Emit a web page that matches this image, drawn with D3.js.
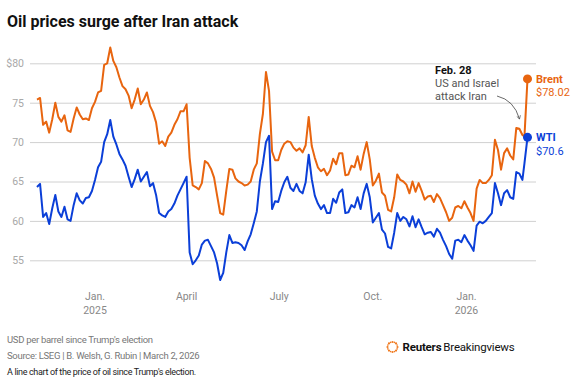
<!DOCTYPE html>
<html>
<head>
<meta charset="utf-8">
<script src="https://cdn.jsdelivr.net/npm/d3@7"></script>
<style>
  body { margin: 0; background: #fff; }
  svg { display: block; font-family: Roboto, "Noto Sans", sans-serif; }
</style>
</head>
<body>
<div id="chart"></div>
<script>
// dates every ~3 days since the election, last point March 2, 2026
const dates = [
  "2024-11-05","2024-11-08","2024-11-11","2024-11-14","2024-11-17","2024-11-20","2024-11-23","2024-11-26","2024-11-29",
  "2024-12-02","2024-12-05","2024-12-08","2024-12-11","2024-12-14","2024-12-17","2024-12-20","2024-12-23","2024-12-26","2024-12-29",
  "2025-01-01","2025-01-04","2025-01-07","2025-01-10","2025-01-13","2025-01-16","2025-01-19","2025-01-22","2025-01-25","2025-01-28","2025-01-31",
  "2025-02-03","2025-02-06","2025-02-09","2025-02-12","2025-02-15","2025-02-18","2025-02-21","2025-02-24","2025-02-27",
  "2025-03-02","2025-03-05","2025-03-08","2025-03-11","2025-03-14","2025-03-17","2025-03-20","2025-03-23","2025-03-26","2025-03-29",
  "2025-04-01","2025-04-04","2025-04-07","2025-04-10","2025-04-13","2025-04-16","2025-04-19","2025-04-22","2025-04-25","2025-04-28",
  "2025-05-01","2025-05-04","2025-05-07","2025-05-10","2025-05-13","2025-05-16","2025-05-19","2025-05-22","2025-05-25","2025-05-28","2025-05-31",
  "2025-06-03","2025-06-06","2025-06-09","2025-06-12","2025-06-15","2025-06-18","2025-06-21","2025-06-24","2025-06-27","2025-06-30",
  "2025-07-03","2025-07-06","2025-07-09","2025-07-12","2025-07-15","2025-07-18","2025-07-21","2025-07-24","2025-07-27","2025-07-30",
  "2025-08-02","2025-08-05","2025-08-08","2025-08-11","2025-08-14","2025-08-17","2025-08-20","2025-08-23","2025-08-26","2025-08-29",
  "2025-09-01","2025-09-04","2025-09-07","2025-09-10","2025-09-13","2025-09-16","2025-09-19","2025-09-22","2025-09-25","2025-09-28",
  "2025-10-01","2025-10-04","2025-10-07","2025-10-10","2025-10-13","2025-10-16","2025-10-19","2025-10-22","2025-10-25","2025-10-28","2025-10-31",
  "2025-11-03","2025-11-06","2025-11-09","2025-11-12","2025-11-15","2025-11-18","2025-11-21","2025-11-24","2025-11-27","2025-11-30",
  "2025-12-03","2025-12-06","2025-12-09","2025-12-12","2025-12-15","2025-12-18","2025-12-21","2025-12-24","2025-12-27","2025-12-30",
  "2026-01-02","2026-01-05","2026-01-08","2026-01-11","2026-01-14","2026-01-17","2026-01-20","2026-01-23","2026-01-26","2026-01-29",
  "2026-02-01","2026-02-04","2026-02-07","2026-02-10","2026-02-13","2026-02-16","2026-02-19","2026-02-22","2026-02-25","2026-02-27",
  "2026-03-02"
];

const brent = [
  75.4,75.6,72.2,72.6,71.2,72.9,75.0,73.2,72.6,
  73.4,71.5,71.3,73.0,74.4,73.5,72.9,73.0,72.8,74.3,
  75.1,76.3,76.5,79.8,80.0,82.0,80.3,79.5,78.2,77.1,76.7,
  75.9,74.3,75.4,76.8,74.8,75.4,76.3,74.6,73.8,
  72.5,69.8,70.1,69.5,70.7,71.2,72.2,72.9,73.9,73.9,
  74.8,68.0,64.5,64.3,64.0,64.8,67.6,67.3,66.6,65.5,
  63.2,61.0,60.8,63.8,66.6,66.5,65.4,65.0,64.8,64.5,64.6,
  65.0,66.5,67.3,71.0,73.6,78.9,76.5,68.8,67.7,67.7,
  69.0,69.8,70.1,70.0,69.3,68.9,69.2,68.7,69.6,73.2,
  69.5,68.0,66.8,66.3,66.6,65.8,66.4,67.9,67.2,68.6,
  68.6,65.8,65.9,67.0,66.8,68.2,66.5,68.5,70.0,67.8,
  64.5,65.1,66.0,63.6,63.2,61.4,61.2,63.0,65.9,65.2,65.0,
  64.6,63.5,65.0,63.7,64.8,63.8,62.7,63.1,63.2,62.4,
  63.4,62.9,62.0,61.1,60.0,60.4,61.7,61.9,61.6,62.5,
  61.7,61.0,60.0,64.1,65.2,64.8,64.8,65.2,65.8,70.3,
  69.0,66.5,68.6,69.2,68.3,67.8,71.8,71.7,70.9,70.7,
  78.02
];

const wti = [
  64.3,64.7,60.5,61.0,59.6,61.6,63.3,61.2,60.5,
  61.8,60.2,60.0,62.0,63.5,62.6,62.2,62.9,63.0,63.8,
  65.2,66.8,67.5,70.0,71.0,72.8,70.7,69.7,68.5,67.8,67.0,
  65.6,64.3,65.3,66.5,65.0,65.6,66.2,64.4,64.8,
  63.3,61.0,60.7,60.5,61.2,61.5,62.2,63.2,64.0,64.8,
  65.6,56.0,54.5,55.0,55.6,57.0,57.5,57.6,56.8,56.0,
  54.6,52.5,53.4,56.0,58.2,57.2,57.3,57.2,56.9,56.3,57.4,
  58.3,59.7,61.2,65.0,67.3,70.0,70.8,61.5,62.5,62.4,
  63.8,64.9,65.6,64.2,63.8,64.7,63.8,63.5,64.9,68.4,
  65.3,63.2,62.2,61.5,62.0,61.0,61.0,62.8,62.3,63.6,
  64.0,61.0,61.1,62.0,61.7,63.0,61.5,63.5,64.7,63.0,
  59.8,60.4,61.0,58.9,58.4,56.7,56.5,58.5,61.0,60.0,60.5,
  60.2,59.3,60.6,59.2,60.2,59.2,58.3,58.5,58.6,58.0,
  59.0,58.5,57.6,56.8,55.8,55.2,57.5,57.6,57.3,58.2,
  57.5,56.9,56.2,59.4,59.9,59.7,60.0,60.5,61.0,64.8,
  63.5,62.0,63.5,63.9,63.0,62.8,66.2,66.0,65.2,67.3,
  70.6
];

const yTicks = [55, 60, 65, 70, 75, 80];
const xTicks = [
  { date: "2025-01-01", lines: ["Jan.", "2025"] },
  { date: "2025-04-01", lines: ["April"] },
  { date: "2025-07-01", lines: ["July"] },
  { date: "2025-10-01", lines: ["Oct."] },
  { date: "2026-01-01", lines: ["Jan.", "2026"] }
];

const orange = "#e8650f";
const blue = "#0b3fd8";

const svgWidth = 584;
const svgHeight = 392;
const parse = d3.timeParse("%Y-%m-%d");

const svg = d3.select("#chart").append("svg")
  .attr("width", svgWidth)
  .attr("height", svgHeight);

// scales
const x = d3.scaleTime()
  .domain([parse(dates[0]), parse(dates[dates.length - 1])])
  .range([37, 527.5]);

const y = d3.scaleLinear()
  .domain([55, 80])
  .range([260.3, 63.3]);

// title
svg.append("text")
  .attr("x", 7)
  .attr("y", 27)
  .attr("font-size", 16)
  .attr("font-weight", 700)
  .attr("fill", "#111")
  .text("Oil prices surge after Iran attack");

// gridlines + y labels
const yAxis = svg.append("g")
  .attr("transform", "translate(30,0)")
  .call(d3.axisRight(y)
    .tickValues(yTicks)
    .tickSize(506)
    .tickFormat(d => d === 80 ? "$80" : d));
yAxis.select(".domain").remove();
yAxis.selectAll(".tick line").attr("stroke", "#d0d0d0").attr("stroke-width", 1);
yAxis.selectAll(".tick text")
  .attr("x", -6)
  .attr("text-anchor", "end")
  .attr("fill", "#a8a8a8")
  .attr("font-size", 10.5)
  .attr("font-family", "Roboto, sans-serif");

// x labels
const xg = svg.append("g");
xTicks.forEach(t => {
  const txt = xg.append("text")
    .attr("x", x(parse(t.date)))
    .attr("y", 300)
    .attr("text-anchor", "middle")
    .attr("font-size", 10.5)
    .attr("fill", "#888");
  t.lines.forEach((l, i) => {
    txt.append("tspan")
      .attr("x", x(parse(t.date)))
      .attr("dy", i === 0 ? 0 : 13.5)
      .text(l);
  });
});

// lines
const series = [
  { name: "Brent", values: brent, color: orange, label: "$78.02" },
  { name: "WTI", values: wti, color: blue, label: "$70.6" }
];

const line = d3.line()
  .x((d, i) => x(parse(dates[i])))
  .y(d => y(d));

series.forEach(s => {
  svg.append("path")
    .datum(s.values)
    .attr("fill", "none")
    .attr("stroke", s.color)
    .attr("stroke-width", 2)
    .attr("stroke-linejoin", "round")
    .attr("d", line);
});

// end points and labels
series.forEach(s => {
  const last = s.values[s.values.length - 1];
  const cx = x(parse(dates[dates.length - 1]));
  const cy = y(last);
  svg.append("circle")
    .attr("cx", cx)
    .attr("cy", cy)
    .attr("r", 4.5)
    .attr("fill", s.color);
  svg.append("text")
    .attr("x", cx + 8.5)
    .attr("y", cy + 4)
    .attr("font-size", 11)
    .attr("font-weight", 700)
    .attr("fill", s.color)
    .text(s.name);
  svg.append("text")
    .attr("x", cx + 8.5)
    .attr("y", cy + 17.5)
    .attr("font-size", 11)
    .attr("fill", s.color)
    .text(s.label);
});

// annotation
const note = svg.append("g").attr("font-size", 11);
note.append("text")
  .attr("x", 435).attr("y", 74)
  .attr("font-weight", 700).attr("fill", "#111")
  .text("Feb. 28");
note.append("text")
  .attr("x", 435).attr("y", 87)
  .attr("fill", "#555")
  .text("US and Israel");
note.append("text")
  .attr("x", 435).attr("y", 100)
  .attr("fill", "#555")
  .text("attack Iran");

svg.append("defs").append("marker")
  .attr("id", "arrow")
  .attr("viewBox", "0 0 10 10")
  .attr("refX", 8).attr("refY", 5)
  .attr("markerWidth", 6).attr("markerHeight", 6)
  .attr("orient", "auto")
  .append("path")
  .attr("d", "M1,1 L8,5 L1,9")
  .attr("fill", "none")
  .attr("stroke", "#444")
  .attr("stroke-width", 1.3);

svg.append("path")
  .attr("d", "M497,96 Q514,100 519.5,119")
  .attr("fill", "none")
  .attr("stroke", "#444")
  .attr("stroke-width", 0.8)
  .attr("marker-end", "url(#arrow)");

// footer
svg.append("text")
  .attr("x", 7).attr("y", 342.5)
  .attr("font-size", 9.5).attr("letter-spacing", -0.3).attr("fill", "#777")
  .text("USD per barrel since Trump's election");
svg.append("text")
  .attr("x", 7).attr("y", 359)
  .attr("font-size", 9.5).attr("letter-spacing", -0.3).attr("fill", "#777")
  .text("Source: LSEG | B. Welsh, G. Rubin | March 2, 2026");
svg.append("text")
  .attr("x", 7).attr("y", 375)
  .attr("font-size", 9).attr("letter-spacing", -0.35).attr("fill", "#222")
  .text("A line chart of the price of oil since Trump's election.");

// logo
const logo = svg.append("g").attr("transform", "translate(392.5,347)");
d3.range(16).forEach(i => {
  const a = i / 16 * Math.PI * 2;
  logo.append("circle")
    .attr("cx", Math.cos(a) * 5)
    .attr("cy", Math.sin(a) * 5)
    .attr("r", i % 2 ? 0.8 : 1.1)
    .attr("fill", "#f07a20");
});
const logoText = svg.append("text")
  .attr("x", 402.5).attr("y", 351)
  .attr("font-size", 11.5).attr("letter-spacing", -0.2).attr("fill", "#111");
logoText.append("tspan").attr("font-weight", 700).text("Reuters");
logoText.append("tspan").attr("dx", 2).text("Breakingviews");
</script>
</body>
</html>
